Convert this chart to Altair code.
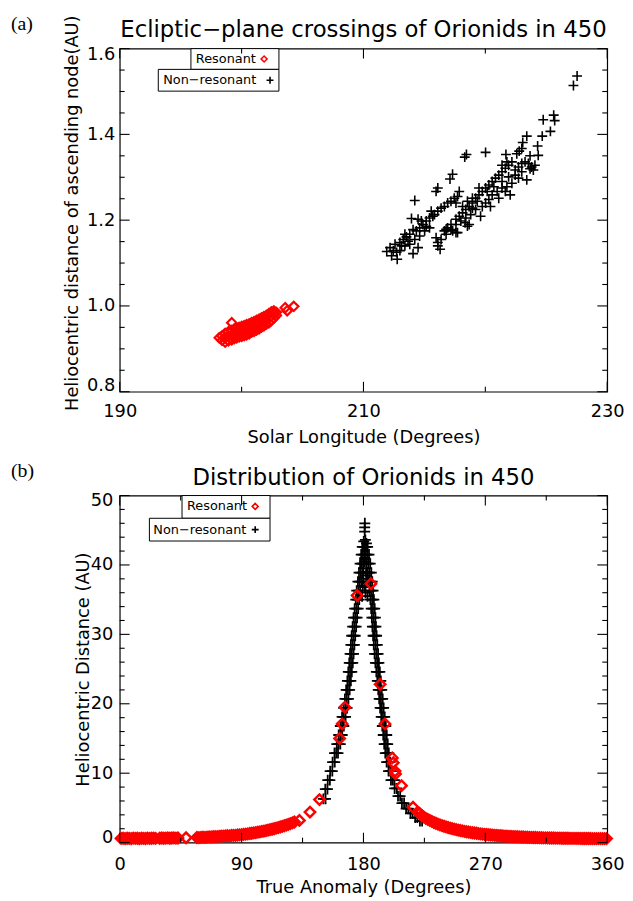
import altair as alt
import pandas as pd

# ---------------- panel (a): ecliptic-plane crossings ----------------
a_res_pts = [
    (198.17, 0.926), (198.40, 0.920), (198.40, 0.930),
    (198.65, 0.916), (198.65, 0.926), (198.65, 0.936),
    (198.92, 0.919), (198.92, 0.930), (198.92, 0.940),
    (199.19, 0.921), (199.19, 0.932), (199.19, 0.943),
    (199.40, 0.924), (199.40, 0.935), (199.40, 0.946),
    (199.60, 0.926), (199.60, 0.937), (199.60, 0.948),
    (199.80, 0.928), (199.80, 0.939), (199.80, 0.950),
    (200.01, 0.929), (200.01, 0.941), (200.01, 0.952),
    (200.21, 0.931), (200.21, 0.943), (200.21, 0.954),
    (200.41, 0.933), (200.41, 0.945), (200.41, 0.956),
    (200.62, 0.935), (200.62, 0.947), (200.62, 0.958),
    (200.82, 0.939), (200.82, 0.950), (200.82, 0.961),
    (201.02, 0.941), (201.02, 0.952), (201.02, 0.963),
    (201.22, 0.944), (201.22, 0.955), (201.22, 0.966),
    (201.43, 0.947), (201.43, 0.958), (201.43, 0.969),
    (201.63, 0.951), (201.63, 0.961), (201.63, 0.972),
    (201.83, 0.954), (201.83, 0.964), (201.83, 0.975),
    (202.03, 0.958), (202.03, 0.968), (202.03, 0.978),
    (202.24, 0.961), (202.24, 0.972), (202.24, 0.982),
    (202.44, 0.966), (202.44, 0.976), (202.44, 0.986),
    (202.65, 0.972), (202.65, 0.981), (202.65, 0.988),
    (202.85, 0.978), (202.85, 0.985),
    (199.19, 0.961), (203.58, 0.996), (203.74, 0.989), (204.28, 0.999),
]

a_non_pts = [
    (227.53, 1.536), (227.23, 1.514), (225.61, 1.445), (225.69, 1.432), (224.75, 1.434),
    (225.34, 1.407), (224.67, 1.396), (223.40, 1.396), (223.07, 1.381), (224.29, 1.373),
    (222.78, 1.361), (224.34, 1.351), (223.67, 1.350), (221.69, 1.353), (220.02, 1.358),
    (218.45, 1.353), (218.31, 1.347), (217.31, 1.307), (217.10, 1.296), (216.10, 1.275),
    (215.96, 1.267), (214.21, 1.246), (217.86, 1.267), (217.72, 1.255), (219.61, 1.209),
    (218.53, 1.186), (218.34, 1.194), (217.72, 1.171), (217.32, 1.175), (216.78, 1.179),
    (216.10, 1.148), (216.29, 1.132), (215.96, 1.159), (214.07, 1.122), (214.48, 1.136),
    (211.91, 1.127), (212.31, 1.117), (212.77, 1.109), (212.72, 1.125),
    (212.99, 1.148), (213.26, 1.155), (213.53, 1.161), (213.80, 1.167), (213.94, 1.204),
    (214.34, 1.175), (214.61, 1.182), (214.48, 1.202), (214.88, 1.190), (215.15, 1.198),
    (215.42, 1.205), (215.56, 1.221), (215.83, 1.213), (216.10, 1.221), (216.37, 1.228),
    (216.64, 1.232), (216.91, 1.240), (217.18, 1.244), (217.45, 1.251), (217.59, 1.240),
    (215.15, 1.186), (214.07, 1.178), (213.40, 1.167), (212.59, 1.144), (213.12, 1.140),
    (213.66, 1.151), (214.75, 1.198), (215.69, 1.209),
    (216.91, 1.182), (217.18, 1.190), (217.59, 1.202), (217.86, 1.209), (218.13, 1.217),
    (218.40, 1.225), (218.67, 1.232), (218.94, 1.240), (219.20, 1.251), (219.48, 1.259),
    (219.75, 1.267), (220.02, 1.275), (220.29, 1.282), (220.56, 1.290), (220.83, 1.298),
    (221.10, 1.305), (221.37, 1.313), (221.64, 1.321), (221.91, 1.328), (222.18, 1.336),
    (222.45, 1.317), (222.72, 1.324), (222.99, 1.332), (223.26, 1.336), (223.53, 1.332),
    (223.80, 1.324), (223.94, 1.317), (223.40, 1.294), (222.72, 1.298), (222.18, 1.286),
    (221.77, 1.278), (221.37, 1.275), (220.97, 1.267), (220.56, 1.259), (220.29, 1.248),
    (220.02, 1.240), (219.75, 1.232), (219.20, 1.225), (218.80, 1.213), (218.40, 1.205),
    (217.99, 1.198), (217.59, 1.190), (217.18, 1.178), (216.78, 1.167), (217.59, 1.171),
    (218.67, 1.190), (218.53, 1.244), (218.94, 1.251), (219.48, 1.275), (220.70, 1.278),
    (221.37, 1.290), (221.91, 1.301), (222.45, 1.305), (222.99, 1.313), (221.64, 1.267),
    (222.04, 1.259), (221.10, 1.251), (220.42, 1.232), (219.34, 1.244), (218.13, 1.232),
    (218.94, 1.228), (220.15, 1.267), (221.37, 1.328), (221.77, 1.336), (222.58, 1.355),
    (222.99, 1.367), (223.67, 1.320), (224.07, 1.328),
    (212.18, 1.136), (212.45, 1.129), (212.99, 1.129), (213.40, 1.140), (213.80, 1.144),
    (214.21, 1.155), (214.61, 1.163), (215.02, 1.175), (215.42, 1.182), (216.37, 1.155),
    (216.64, 1.175), (216.10, 1.140),
]

a_x_labels = [190, 210, 230]
a_x_minor = [200, 220]
a_y_labels = [0.8, 1.0, 1.2, 1.4, 1.6]
a_y_minor = [0.85, 0.9, 0.95, 1.05, 1.1, 1.15, 1.25, 1.3, 1.35, 1.45, 1.5, 1.55]

# ---------------- panel (b): distribution along the orbit ----------------
b_res_pts = [
    (1.0, 0.60), (2.5, 0.62), (4.0, 0.58), (5.5, 0.63), (7.0, 0.60), (8.5, 0.57),
    (10.0, 0.64), (11.5, 0.60), (13.0, 0.62), (14.5, 0.58), (16.0, 0.63), (17.5, 0.61),
    (19.0, 0.59), (20.5, 0.64), (22.0, 0.60), (23.5, 0.62), (25.0, 0.65), (26.5, 0.61),
    (29.5, 0.63), (31.0, 0.66), (32.5, 0.62), (34.0, 0.65), (35.5, 0.68), (37.0, 0.63),
    (38.5, 0.66), (40.0, 0.69), (41.5, 0.64), (43.0, 0.67), (49.0, 0.70),
    (57.0, 0.74), (58.5, 0.72), (60.0, 0.76), (61.5, 0.78), (63.0, 0.75), (64.5, 0.79),
    (66.0, 0.82), (67.5, 0.80), (69.0, 0.84), (70.5, 0.87), (72.0, 0.85), (73.5, 0.90),
    (75.0, 0.93), (76.5, 0.91), (78.0, 0.96), (79.5, 0.99), (81.0, 0.97), (82.5, 1.02),
    (84.0, 1.05), (85.5, 1.04), (87.0, 1.09), (88.5, 1.12), (90.0, 1.15), (91.5, 1.19),
    (93.0, 1.22), (94.5, 1.26), (96.0, 1.31), (97.5, 1.35), (99.0, 1.40), (100.5, 1.44),
    (102.0, 1.50), (103.5, 1.55), (105.0, 1.61), (106.5, 1.66), (108.0, 1.73), (109.5, 1.79),
    (111.0, 1.86), (112.5, 1.93), (114.0, 2.00), (115.5, 2.08), (117.0, 2.16), (118.5, 2.24),
    (120.0, 2.33), (121.5, 2.42), (123.0, 2.52), (124.5, 2.62), (126.0, 2.73), (127.5, 2.85),
    (129.0, 2.97), (132.7, 3.20), (140.5, 4.40), (147.5, 6.20),
    (162.4, 15.0), (164.3, 17.1), (166.3, 19.5), (175.3, 35.6), (185.5, 37.3),
    (192.3, 22.8), (195.9, 17.1), (201.3, 12.2), (202.0, 11.5), (203.3, 10.3),
    (203.7, 9.9), (208.1, 8.2), (216.6, 5.1),
    (220.0, 4.40), (221.5, 4.20), (223.0, 3.90), (224.5, 3.70), (226.0, 3.50), (227.5, 3.35),
    (229.0, 3.20), (230.5, 3.05), (232.0, 2.90), (233.5, 2.78), (235.0, 2.66), (236.5, 2.55),
    (238.0, 2.45), (239.5, 2.35), (241.0, 2.26), (242.5, 2.17), (244.0, 2.09), (245.5, 2.01),
    (247.0, 1.94), (248.5, 1.87), (250.0, 1.80), (251.5, 1.74), (253.0, 1.68), (254.5, 1.62),
    (256.0, 1.57), (257.5, 1.52), (259.0, 1.47), (260.5, 1.42), (262.0, 1.38), (263.5, 1.34),
    (265.0, 1.30), (266.5, 1.26), (268.0, 1.22), (269.5, 1.19), (271.0, 1.16), (272.5, 1.13),
    (274.0, 1.10), (275.5, 1.07), (277.0, 1.05), (278.5, 1.02), (280.0, 1.00), (281.5, 0.98),
    (283.0, 0.96), (284.5, 0.94), (286.0, 0.92), (287.5, 0.90), (289.0, 0.88), (290.5, 0.87),
    (292.0, 0.85), (293.5, 0.84), (295.0, 0.82), (296.5, 0.81), (298.0, 0.80), (299.5, 0.78),
    (301.0, 0.77), (302.5, 0.76), (304.0, 0.75), (305.5, 0.74), (307.0, 0.73), (308.5, 0.72),
    (310.0, 0.71), (311.5, 0.70), (313.0, 0.69), (314.5, 0.69), (316.0, 0.68), (317.5, 0.67),
    (319.0, 0.66), (320.5, 0.66), (322.0, 0.65), (323.5, 0.64), (325.0, 0.64), (326.5, 0.63),
    (328.0, 0.63), (329.5, 0.62), (331.0, 0.62), (332.5, 0.61), (334.0, 0.61), (335.5, 0.61),
    (337.0, 0.60), (338.5, 0.60), (340.0, 0.60), (341.5, 0.59), (343.0, 0.59), (344.5, 0.59),
    (346.0, 0.59), (347.5, 0.59), (349.0, 0.58), (350.5, 0.58), (352.0, 0.58), (353.5, 0.58),
    (355.0, 0.58), (356.5, 0.58), (358.0, 0.58), (359.5, 0.58),
]

b_non_pts = [
    # rising (left) flank
    (150.4, 6.3), (152.0, 6.3), (151.8, 7.7), (153.4, 7.7), (153.6, 9.0), (155.2, 9.0),
    (155.4, 10.3), (157.0, 10.3), (157.2, 11.6), (158.8, 11.6),
    (158.6, 12.9), (159.9, 12.9), (161.2, 12.9), (160.3, 14.2), (161.6, 14.2), (162.9, 14.2),
    (161.7, 15.5), (163.0, 15.5), (164.3, 15.5), (162.9, 16.8), (164.2, 16.8), (165.5, 16.8),
    (164.2, 18.1), (165.5, 18.1), (166.8, 18.1), (165.3, 19.4), (166.6, 19.4), (167.9, 19.4),
    (166.3, 20.7), (167.6, 20.7), (168.9, 20.7), (167.2, 22.0), (168.5, 22.0), (169.8, 22.0),
    (168.1, 23.3), (169.4, 23.3), (170.7, 23.3), (168.8, 24.6), (170.1, 24.6), (171.4, 24.6),
    (169.5, 25.9), (170.8, 25.9), (172.1, 25.9), (170.1, 27.2), (171.4, 27.2), (172.7, 27.2),
    (170.7, 28.5), (172.0, 28.5), (173.3, 28.5), (171.3, 29.8), (172.6, 29.8), (173.9, 29.8),
    (172.0, 31.1), (173.3, 31.1), (174.6, 31.1), (172.7, 32.4), (174.0, 32.4), (175.3, 32.4),
    (173.5, 33.7), (174.8, 33.7), (176.1, 33.7), (174.3, 35.0), (175.6, 35.0), (176.9, 35.0),
    (175.0, 36.3), (176.3, 36.3), (177.6, 36.3), (175.9, 37.6), (177.2, 37.6), (178.5, 37.6),
    (176.7, 38.9), (178.0, 38.9), (179.3, 38.9), (177.5, 40.2), (178.8, 40.2), (180.1, 40.2),
    (178.3, 41.5), (179.6, 41.5), (180.9, 41.5), (179.1, 42.6), (180.4, 42.6), (181.7, 42.6),
    # falling (right) flank
    (180.5, 42.6), (181.8, 42.6), (183.1, 42.6), (181.5, 41.5), (182.8, 41.5), (184.1, 41.5),
    (182.4, 40.2), (183.7, 40.2), (185.0, 40.2), (183.2, 38.9), (184.5, 38.9), (185.8, 38.9),
    (183.9, 37.6), (185.2, 37.6), (186.5, 37.6), (184.5, 36.3), (185.8, 36.3), (187.1, 36.3),
    (185.1, 35.0), (186.4, 35.0), (187.7, 35.0), (185.7, 33.7), (187.0, 33.7), (188.3, 33.7),
    (186.2, 32.4), (187.5, 32.4), (188.8, 32.4), (186.6, 31.1), (187.9, 31.1), (189.2, 31.1),
    (187.1, 29.8), (188.4, 29.8), (189.7, 29.8), (187.6, 28.5), (188.9, 28.5), (190.2, 28.5),
    (188.2, 27.2), (189.5, 27.2), (190.8, 27.2), (188.8, 25.9), (190.1, 25.9), (191.4, 25.9),
    (189.5, 24.6), (190.8, 24.6), (192.1, 24.6), (190.2, 23.3), (191.5, 23.3), (192.8, 23.3),
    (190.9, 22.0), (192.2, 22.0), (193.5, 22.0), (191.6, 20.7), (192.9, 20.7), (194.2, 20.7),
    (192.3, 19.4), (193.6, 19.4), (194.9, 19.4), (193.1, 18.1), (194.4, 18.1), (195.7, 18.1),
    (193.9, 16.8), (195.2, 16.8), (196.5, 16.8), (194.6, 15.5), (195.9, 15.5), (197.2, 15.5),
    (195.3, 14.2), (196.6, 14.2), (197.9, 14.2), (196.1, 12.9), (197.4, 12.9), (198.7, 12.9),
    (197.1, 11.6), (198.4, 11.6), (199.7, 11.6), (198.5, 10.3), (199.8, 10.3), (201.1, 10.3),
    (200.3, 9.0), (201.6, 9.0), (202.9, 9.0), (203.0, 7.8), (204.6, 7.8), (205.5, 6.7),
    (207.1, 6.7), (208.4, 5.7), (210.0, 5.7), (211.5, 4.9), (213.1, 4.9), (214.7, 4.2),
    (216.3, 4.2), (218.2, 3.6), (219.8, 3.6), (221.7, 3.1), (223.3, 3.1),
    # crest
    (180.2, 43.4), (181.4, 43.6), (182.2, 43.1), (180.9, 44.8), (180.9, 45.4), (181.0, 46.0),
    (180.0, 39.5), (182.0, 39.0), (181.0, 40.5), (179.5, 37.0), (183.0, 37.5), (181.5, 36.0),
    (179.0, 35.5), (181.0, 36.8), (183.0, 35.5), (180.0, 38.0), (182.0, 38.5), (181.0, 41.0),
]

b_x_labels = [0, 90, 180, 270, 360]
b_x_minor = [45, 135, 225, 315]
b_y_labels = [0, 10, 20, 30, 40, 50]
b_y_minor = [2, 4, 6, 8, 12, 14, 16, 18, 22, 24, 26, 28, 32, 34, 36, 38, 42, 44, 46, 48]

# ---------------- styling ----------------
FONT = "DejaVu Sans"
SERIF = "Liberation Serif"
PLUS = "M-1,0L1,0M0,-1L0,1"
W = 493
H_A = 347
H_B = 351
MAJOR = 10
MINOR = 5


def frame(pts):
    return pd.DataFrame(pts, columns=["x", "y"])


def text_layer(txt, x, y, size, font, align="center", baseline="alphabetic"):
    one = pd.DataFrame({"k": [0]})
    return alt.Chart(one).mark_text(align=align, baseline=baseline, font=font, fontSize=size,
                                    color="black").encode(
        x=alt.value(x), y=alt.value(y), text=alt.value(txt))


def legend_layers(box1, box2, t1, t2, s1, s2):
    one = pd.DataFrame({"k": [0]})
    rect1 = alt.Chart(one).mark_rect(fill="white", stroke="black", strokeWidth=1).encode(
        x=alt.value(box1[0]), x2=alt.value(box1[1]), y=alt.value(box1[2]), y2=alt.value(box1[3]))
    rect2 = alt.Chart(one).mark_rect(fill="white", stroke="black", strokeWidth=1).encode(
        x=alt.value(box2[0]), x2=alt.value(box2[1]), y=alt.value(box2[2]), y2=alt.value(box2[3]))
    txt1 = text_layer("Resonant", t1[0], t1[1], 13, FONT, "left", "middle")
    txt2 = text_layer("Non\u2212resonant", t2[0], t2[1], 13, FONT, "left", "middle")
    sym1 = alt.Chart(one).mark_point(shape="diamond", filled=False, color="red", strokeWidth=1.6,
                                     size=36, opacity=1).encode(x=alt.value(s1[0]), y=alt.value(s1[1]))
    sym2 = alt.Chart(one).mark_point(shape=PLUS, filled=False, color="black", strokeWidth=1.6,
                                     size=49, opacity=1).encode(x=alt.value(s2[0]), y=alt.value(s2[1]))
    return [rect1, rect2, txt1, txt2, sym1, sym2]


def panel(res, non, xdom, ydom, xlab, xmin, ylab, ymin, xfmt, yfmt,
          xtitle, ytitle, xtitle_y, xlabpad, ytitle_x, ytitle_y, ylabpad, flush_off,
          title, title_y, tag, tag_y, H, legend, plus_size, plus_w, dia_size, dia_w):
    xs = alt.Scale(domain=xdom, nice=False, zero=False)
    ys = alt.Scale(domain=ydom, nice=False, zero=False)
    lab_x = alt.Axis(orient="bottom", values=xlab, format=xfmt, ticks=False, tickSize=0,
                     domain=False, grid=False, labelFont=FONT, labelFontSize=18,
                     labelColor="black", labelPadding=xlabpad, labelFlush=False,
                     labelOverlap=False,
                     title=xtitle, titleFont=FONT, titleFontSize=18, titleFontWeight="normal",
                     titleColor="black", titleBaseline="alphabetic", titleY=xtitle_y)
    lab_y = alt.Axis(orient="left", values=ylab, format=yfmt, ticks=False, tickSize=0,
                     domain=False, grid=False, labelFont=FONT, labelFontSize=18,
                     labelColor="black", labelPadding=ylabpad, labelFlush=True,
                     labelFlushOffset=flush_off,
                     labelOverlap=False, title=ytitle, titleFont=FONT, titleFontSize=18,
                     titleFontWeight="normal", titleColor="black", titleBaseline="alphabetic",
                     titleAngle=270, titleAlign="center", titleX=ytitle_x, titleY=ytitle_y)
    non_layer = alt.Chart(frame(non)).mark_point(
        shape=PLUS, filled=False, color="black", strokeWidth=plus_w, size=plus_size, opacity=1
    ).encode(x=alt.X("x:Q", scale=xs, axis=lab_x), y=alt.Y("y:Q", scale=ys, axis=lab_y))
    res_layer = alt.Chart(frame(res)).mark_point(
        shape="diamond", filled=False, color="red", strokeWidth=dia_w, size=dia_size, opacity=1
    ).encode(x=alt.X("x:Q", scale=xs, axis=None), y=alt.Y("y:Q", scale=ys, axis=None))

    def xticks(vals, length, at_top):
        y0 = 0 if at_top else H
        y1 = length if at_top else H - length
        return alt.Chart(pd.DataFrame({"v": vals})).mark_rule(
            color="black", strokeWidth=1.1).encode(
            x=alt.X("v:Q", scale=xs, axis=None), y=alt.value(y0), y2=alt.value(y1))

    def yticks(vals, length, at_right):
        x0 = W if at_right else 0
        x1 = W - length if at_right else length
        return alt.Chart(pd.DataFrame({"v": vals})).mark_rule(
            color="black", strokeWidth=1.1).encode(
            y=alt.Y("v:Q", scale=ys, axis=None), x=alt.value(x0), x2=alt.value(x1))

    ticks = [xticks(xlab, MAJOR, False), xticks(xlab, MAJOR, True),
             xticks(xmin, MINOR, False), xticks(xmin, MINOR, True),
             yticks(ylab, MAJOR, False), yticks(ylab, MAJOR, True),
             yticks(ymin, MINOR, False), yticks(ymin, MINOR, True)]
    tag_layer = text_layer(tag, -110, tag_y, 20, SERIF, "left", "middle")
    title_layer = text_layer(title, W / 2, title_y, 23, FONT, "center", "alphabetic")
    layers = [non_layer, res_layer] + legend + ticks + [tag_layer, title_layer]
    return alt.layer(*layers).resolve_axis(x="independent", y="independent").properties(
        width=W, height=H)


top = panel(a_res_pts, a_non_pts, [190, 230], [0.8, 1.6], a_x_labels, a_x_minor,
            a_y_labels, a_y_minor, "d", ".1f",
            "Solar Longitude (Degrees)", "Heliocentric distance of ascending node(AU)",
            51, 11, -43, 166, 5, 3, "Ecliptic\u2212plane crossings of Orionids in 450", -12,
            "(a)", -25, H_A,
            legend_layers((72, 161, 0, 21), (39, 161, 21, 43), (77, 10.5), (44, 32),
                          (146, 10.5), (152, 32)),
            100, 1.6, 90, 2.2)

bottom = panel(b_res_pts, b_non_pts, [0, 360], [0, 50], b_x_labels, b_x_minor,
               b_y_labels, b_y_minor, "d", "d", "True Anomaly (Degrees)",
               "Heliocentric Distance (AU)", 50, 13, -32, H_B / 2, 7, 4,
               "Distribution of Orionids in 450", -11, "(b)", -25, H_B,
               legend_layers((63, 152, 0, 23), (30, 152, 23, 46), (68, 11), (34, 34.5),
                             (137, 11), (137, 34.5)),
               121, 1.8, 110, 2.5)

chart = alt.vconcat(top, bottom, spacing=13).properties(
    padding={"left": 2, "top": 0, "right": 0, "bottom": 0}
).configure_view(stroke="black", strokeWidth=1.2)

chart.save("out.html", embed_options={"renderer": "svg", "actions": False})
